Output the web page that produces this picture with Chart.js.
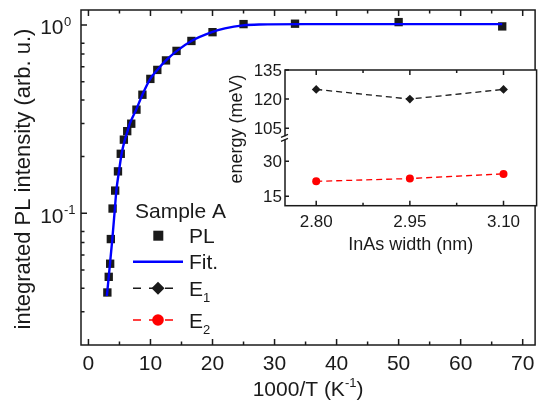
<!DOCTYPE html>
<html>
<head>
<meta charset="utf-8">
<script src="https://cdn.jsdelivr.net/npm/chart.js@4.4.1/dist/chart.umd.min.js"></script>
<style>
  body { margin: 0; background: #fff; }
  #wrap { position: relative; width: 541px; height: 400px; }
  #wrap canvas { position: absolute; left: 0; top: 0; }
</style>
</head>
<body>
<div id="wrap">
  <canvas id="main" width="541" height="400"></canvas>
  <canvas id="inset" width="541" height="400"></canvas>
</div>
<script>
'use strict';

// ── Data ─────────────────────────────────────────────────────
// main panel: 1000/T (K^-1) vs integrated PL intensity
const INV_T        = [3.05, 3.27, 3.50, 3.61, 3.89, 4.31, 4.76, 5.21, 5.71, 6.25, 6.90, 7.74,
                      8.70, 9.98, 11.1, 12.5, 14.2, 16.6, 20.0, 25.0, 33.3, 50.0, 66.7];
const PL_INTENSITY = [0.038, 0.046, 0.054, 0.073, 0.106, 0.132, 0.167, 0.207, 0.246, 0.273, 0.299, 0.355,
                      0.426, 0.517, 0.577, 0.648, 0.728, 0.822, 0.915, 1.01, 1.015, 1.035, 0.982];

// fitted curve
const FIT_X = [2.97, 3.85, 4.26, 4.50, 4.92, 5.35, 5.87, 6.31, 6.67, 7.69, 8.70, 9.98,
               11.1, 12.5, 14.2, 16.6, 19.9, 22.0, 24.9, 27.5, 35.0, 50.0, 66.7];
const FIT_Y = [0.0364, 0.073, 0.106, 0.132, 0.167, 0.207, 0.246, 0.273, 0.299, 0.355, 0.426, 0.518,
               0.577, 0.648, 0.726, 0.822, 0.916, 0.958, 0.994, 1.005, 1.01, 1.01, 1.01];

// inset: transition energies vs InAs width
const WIDTH_NM = [2.80, 2.95, 3.10];
const E1_MEV   = [125, 120, 125];
const E2_MEV   = [21.4, 22.6, 24.6];

// tick labels
const X_TICKS      = [0, 10, 20, 30, 40, 50, 60, 70];
const X_MINOR      = [5, 15, 25, 35, 45, 55, 65];
const Y_DECADES    = [0.1, 1];
const Y_DECADE_EXP = ['-1', '0'];
const Y_MINOR      = [0.03, 0.04, 0.05, 0.06, 0.07, 0.08, 0.2, 0.3, 0.4, 0.5, 0.6, 0.7, 0.8];

const INSET_X_TICKS  = [2.80, 2.95, 3.10];
const INSET_X_LABELS = ['2.80', '2.95', '3.10'];
const INSET_X_MINOR  = [2.875, 3.025];
const INSET_TOP_TICKS = [105, 120, 135];
const INSET_BOT_TICKS = [15, 30];

const FONT = '"Liberation Sans", Arial, sans-serif';
const INK  = '#1a1a1a';
const BLUE = '#0000ff';
const RED  = '#ff0000';

// draw a run of text pieces [text, size, dy] on one baseline
function textRun(ctx, runs, x, y, align) {
  let total = 0;
  runs.forEach(r => { ctx.font = `${r[1]}px ${FONT}`; total += ctx.measureText(r[0]).width; });
  let cx = align === 'center' ? x - total / 2 : align === 'right' ? x - total : x;
  ctx.textAlign = 'left';
  ctx.textBaseline = 'alphabetic';
  runs.forEach(r => {
    ctx.font = `${r[1]}px ${FONT}`;
    ctx.fillText(r[0], cx, y + (r[2] || 0));
    cx += ctx.measureText(r[0]).width;
  });
}

// ── Main panel decorations: frame, inward ticks, labels, legend ─
const mainDecor = {
  id: 'mainDecor',
  afterDraw(chart) {
    const { ctx, chartArea: a, scales: { x, y } } = chart;
    ctx.save();
    ctx.strokeStyle = INK;
    ctx.fillStyle = INK;
    ctx.lineWidth = 1.5;
    ctx.strokeRect(a.left, a.top, a.right - a.left, a.bottom - a.top);

    ctx.beginPath();
    const xt = (v, len) => {
      const px = x.getPixelForValue(v);
      ctx.moveTo(px, a.bottom); ctx.lineTo(px, a.bottom - len);
      ctx.moveTo(px, a.top);    ctx.lineTo(px, a.top + len);
    };
    const yt = (v, len) => {
      const py = y.getPixelForValue(v);
      ctx.moveTo(a.left, py); ctx.lineTo(a.left + len, py);
    };
    X_TICKS.forEach(v => xt(v, 6));
    X_MINOR.forEach(v => xt(v, 3.5));
    Y_DECADES.forEach(v => yt(v, 6));
    Y_MINOR.forEach(v => yt(v, 3.5));
    ctx.stroke();

    // tick labels
    X_TICKS.forEach(v => textRun(ctx, [[String(v), 21]], x.getPixelForValue(v), 370, 'center'));
    Y_DECADES.forEach((v, i) => {
      const py = y.getPixelForValue(v);
      textRun(ctx, [['10', 21]], 63.5, py + 9.5, 'right');
      textRun(ctx, [[Y_DECADE_EXP[i], 13]], 64, py + 1, 'left');
    });

    // axis titles
    textRun(ctx, [['1000/T (K', 21], ['-1', 13, -8.5], [')', 21]], (a.left + a.right) / 2, 395.5, 'center');
    ctx.save();
    ctx.translate(22, 179);
    ctx.rotate(-Math.PI / 2);
    textRun(ctx, [['integrated PL intensity (arb. u.)', 22]], 0, 8, 'center');
    ctx.restore();

    // legend
    textRun(ctx, [['Sample A', 21]], 135, 217.5, 'left');
    ctx.fillRect(158.3 - 5, 235.7 - 5, 10, 10);
    textRun(ctx, [['PL', 21]], 189, 243.2, 'left');

    ctx.strokeStyle = BLUE; ctx.lineWidth = 2.4;
    ctx.beginPath(); ctx.moveTo(133, 261.7); ctx.lineTo(183, 261.7); ctx.stroke();
    textRun(ctx, [['Fit.', 21]], 189, 269.2, 'left');

    ctx.lineWidth = 1.5;
    ctx.setLineDash([8, 8]);
    ctx.strokeStyle = INK;
    ctx.beginPath(); ctx.moveTo(133, 288.3); ctx.lineTo(181, 288.3); ctx.stroke();
    ctx.strokeStyle = RED;
    ctx.beginPath(); ctx.moveTo(133, 320); ctx.lineTo(181, 320); ctx.stroke();
    ctx.setLineDash([]);

    ctx.fillStyle = INK;
    ctx.beginPath();
    ctx.moveTo(158, 288.3 - 6.5); ctx.lineTo(164.5, 288.3); ctx.lineTo(158, 288.3 + 6.5); ctx.lineTo(151.5, 288.3);
    ctx.closePath(); ctx.fill();
    textRun(ctx, [['E', 21], ['1', 13, 6.5]], 189, 295.8, 'left');

    ctx.fillStyle = RED;
    ctx.beginPath(); ctx.arc(158, 320, 5.8, 0, Math.PI * 2); ctx.fill();
    ctx.fillStyle = INK;
    textRun(ctx, [['E', 21], ['2', 13, 6.5]], 189, 327.5, 'left');
    ctx.restore();
  }
};

new Chart(document.getElementById('main'), {
  type: 'scatter',
  data: {
    datasets: [
      {
        label: 'Fit.',
        data: FIT_X.map((v, i) => ({ x: v, y: FIT_Y[i] })),
        showLine: true,
        borderColor: BLUE,
        borderWidth: 2.4,
        pointRadius: 0,
        cubicInterpolationMode: 'monotone',
        order: 0
      },
      {
        label: 'PL',
        data: INV_T.map((v, i) => ({ x: v, y: PL_INTENSITY[i] })),
        pointStyle: 'rect',
        pointRadius: 5.9,
        backgroundColor: INK,
        borderColor: INK,
        borderWidth: 0,
        order: 1
      }
    ]
  },
  options: {
    responsive: false,
    animation: false,
    layout: { padding: { left: 81, right: 2.3, top: 10, bottom: 55 } },
    plugins: { legend: { display: false }, tooltip: { enabled: false } },
    scales: {
      x: {
        type: 'linear', min: -1.2, max: 72,
        grid: { display: false }, border: { display: false }, ticks: { display: false },
        afterFit: s => { s.height = 0; }
      },
      y: {
        type: 'logarithmic', min: 0.02, max: 1.2,
        grid: { display: false }, border: { display: false }, ticks: { display: false },
        afterFit: s => { s.width = 0; }
      }
    }
  },
  plugins: [mainDecor]
});

// ── Inset: broken energy axis built from two stacked y scales ─
const insetDecor = {
  id: 'insetDecor',
  beforeDraw(chart) {
    const { ctx, chartArea: a } = chart;
    ctx.save();
    ctx.fillStyle = '#fff';
    ctx.fillRect(a.left, a.top, a.right - a.left, a.bottom - a.top);
    ctx.restore();
  },
  afterDraw(chart) {
    const { ctx, chartArea: a, scales: { x, yTop, yBot } } = chart;
    ctx.save();
    ctx.strokeStyle = INK;
    ctx.fillStyle = INK;
    ctx.lineWidth = 1.5;
    ctx.strokeRect(a.left, a.top, a.right - a.left, a.bottom - a.top);

    ctx.beginPath();
    const xt = (v, len) => {
      const px = x.getPixelForValue(v);
      ctx.moveTo(px, a.bottom); ctx.lineTo(px, a.bottom - len);
      ctx.moveTo(px, a.top);    ctx.lineTo(px, a.top + len);
    };
    INSET_X_TICKS.forEach(v => xt(v, 5));
    INSET_X_MINOR.forEach(v => xt(v, 3));
    INSET_TOP_TICKS.forEach(v => { const py = yTop.getPixelForValue(v); ctx.moveTo(a.left, py); ctx.lineTo(a.left + 4, py); });
    INSET_BOT_TICKS.forEach(v => { const py = yBot.getPixelForValue(v); ctx.moveTo(a.left, py); ctx.lineTo(a.left + 4, py); });
    ctx.stroke();

    // axis break mark
    const yb = (yTop.bottom + yBot.top) / 2;
    ctx.fillStyle = '#fff';
    ctx.fillRect(a.left - 2, yb - 1.5, 4, 3);
    ctx.beginPath();
    ctx.lineWidth = 1.2;
    ctx.moveTo(a.left - 4, yb - 0.5); ctx.lineTo(a.left + 3, yb - 3.5);
    ctx.moveTo(a.left - 4, yb + 3.5); ctx.lineTo(a.left + 3, yb + 0.5);
    ctx.stroke();

    ctx.fillStyle = INK;
    INSET_X_TICKS.forEach((v, i) => textRun(ctx, [[INSET_X_LABELS[i], 17]], x.getPixelForValue(v), 226.8, 'center'));
    INSET_TOP_TICKS.forEach(v => textRun(ctx, [[String(v), 17]], 282, yTop.getPixelForValue(v) + 6, 'right'));
    INSET_BOT_TICKS.forEach(v => textRun(ctx, [[String(v), 17]], 282, yBot.getPixelForValue(v) + 6, 'right'));

    textRun(ctx, [['InAs width (nm)', 18]], (a.left + a.right) / 2, 249.5, 'center');
    ctx.save();
    ctx.translate(235, 129);
    ctx.rotate(-Math.PI / 2);
    textRun(ctx, [['energy (meV)', 18]], 0, 6.5, 'center');
    ctx.restore();
    ctx.restore();
  }
};

new Chart(document.getElementById('inset'), {
  type: 'scatter',
  data: {
    datasets: [
      {
        label: 'E1',
        data: WIDTH_NM.map((v, i) => ({ x: v, y: E1_MEV[i] })),
        yAxisID: 'yTop',
        showLine: true,
        borderColor: INK,
        borderWidth: 1.3,
        borderDash: [6, 4],
        pointStyle: 'rectRot',
        pointRadius: 4.4,
        backgroundColor: INK,
        pointBorderWidth: 0
      },
      {
        label: 'E2',
        data: WIDTH_NM.map((v, i) => ({ x: v, y: E2_MEV[i] })),
        yAxisID: 'yBot',
        showLine: true,
        borderColor: RED,
        borderWidth: 1.3,
        borderDash: [6, 4],
        pointStyle: 'circle',
        pointRadius: 4,
        backgroundColor: RED,
        pointBorderWidth: 0
      }
    ]
  },
  options: {
    responsive: false,
    animation: false,
    layout: { padding: { left: 285, right: 2.3, top: 70, bottom: 194.3 } },
    plugins: { legend: { display: false }, tooltip: { enabled: false } },
    scales: {
      x: {
        type: 'linear', min: 2.75, max: 3.153,
        grid: { display: false }, border: { display: false }, ticks: { display: false },
        afterFit: s => { s.height = 0; }
      },
      // stacked left scales are laid out bottom-first, so the lower segment comes first
      yBot: {
        type: 'linear', position: 'left', stack: 'energy', stackWeight: 1,
        min: 11, max: 40,
        grid: { display: false }, border: { display: false }, ticks: { display: false },
        afterFit: s => { s.width = 0; }
      },
      yTop: {
        type: 'linear', position: 'left', stack: 'energy', stackWeight: 1,
        min: 100, max: 135,
        grid: { display: false }, border: { display: false }, ticks: { display: false },
        afterFit: s => { s.width = 0; }
      }
    }
  },
  plugins: [insetDecor]
});
</script>
</body>
</html>
